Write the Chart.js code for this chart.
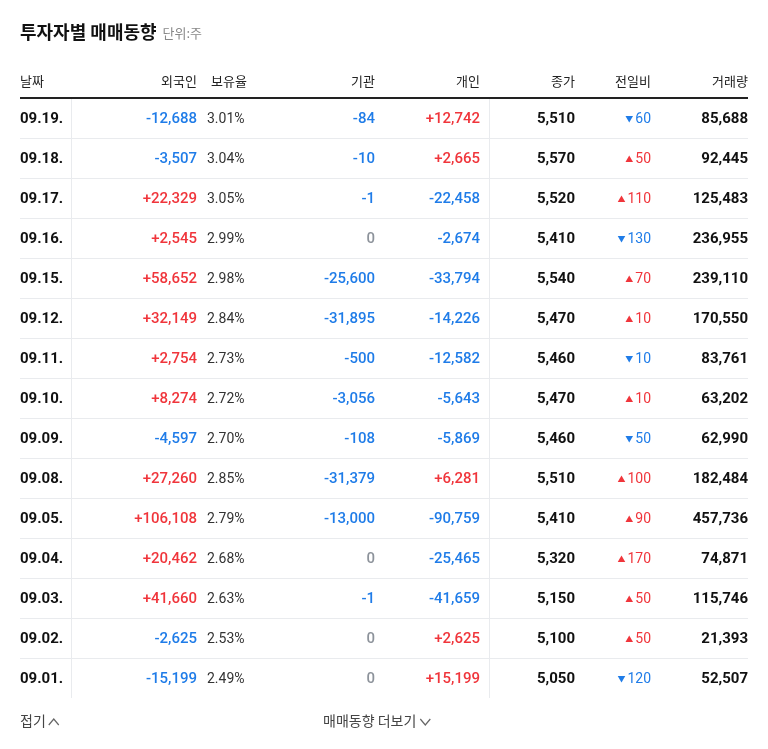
<!DOCTYPE html>
<html><head><meta charset="utf-8">
<script src="https://cdn.jsdelivr.net/npm/chart.js@4"></script>
<style>html,body{margin:0;padding:0;background:#fff}canvas{display:block}</style>
</head><body>
<canvas id="c" width="768" height="749"></canvas>
<script>
const dates=["09.19.","09.18.","09.17.","09.16.","09.15.","09.12.","09.11.","09.10.","09.09.","09.08.","09.05.","09.04.","09.03.","09.02.","09.01."];
const foreign=[-12688,-3507,22329,2545,58652,32149,2754,8274,-4597,27260,106108,20462,41660,-2625,-15199];
const holdRatio=["3.01%","3.04%","3.05%","2.99%","2.98%","2.84%","2.73%","2.72%","2.70%","2.85%","2.79%","2.68%","2.63%","2.53%","2.49%"];
const inst=[-84,-10,-1,0,-25600,-31895,-500,-3056,-108,-31379,-13000,0,-1,0,0];
const indiv=[12742,2665,-22458,-2674,-33794,-14226,-12582,-5643,-5869,6281,-90759,-25465,-41659,2625,15199];
const close=[5510,5570,5520,5410,5540,5470,5460,5470,5460,5510,5410,5320,5150,5100,5050];
const change=[-60,50,110,-130,70,10,-10,10,-50,100,90,170,50,50,-120];
const volume=[85688,92445,125483,236955,239110,170550,83761,63202,62990,182484,457736,74871,115746,21393,52507];
const headers=["날짜","외국인","보유율","기관","개인","종가","전일비","거래량"];

const RED="#f0353b",BLUE="#1f7ce8",GRAY="#8d939b",DARK="#111";
const F="'Noto Sans CJK KR','Noto Sans',sans-serif";
const N="Roboto,'Noto Sans CJK KR',sans-serif";
const fmt=v=>Math.abs(v).toLocaleString("en-US");
const signed=v=>v>0?"+"+fmt(v):v<0?"-"+fmt(v):"0";
const col=v=>v>0?RED:v<0?BLUE:GRAY;

const tablePlugin={id:"table",afterDraw(chart){
  const ctx=chart.ctx,ys=chart.scales.y,xs=chart.scales.x;
  const X=v=>xs.getPixelForValue(v);
  ctx.save();
  ctx.textBaseline="middle";
  ctx.fillStyle=DARK;ctx.font="bold 18px "+F;ctx.textAlign="left";
  ctx.fillText("투자자별 매매동향",20,32);
  const tw=ctx.measureText("투자자별 매매동향").width;
  ctx.fillStyle="#888";ctx.font="13px "+F;ctx.fillText("단위:주",20+tw+6,33);
  ctx.font="13px "+F;ctx.fillStyle="#222";
  const hx=[[20,"left"],[197,"right"],[247,"right"],[375,"right"],[480,"right"],[575,"right"],[651,"right"],[748,"right"]];
  headers.forEach((h,i)=>{ctx.textAlign=hx[i][1];ctx.fillText(h,X(hx[i][0]),81);});
  ctx.fillStyle="#222";ctx.fillRect(X(20),97,X(748)-X(20),2);
  const step=ys.getPixelForValue(1)-ys.getPixelForValue(0);
  ctx.fillStyle="#e9ebee";
  dates.forEach((d,i)=>{if(i<dates.length-1){const y=ys.getPixelForValue(i)+step/2;ctx.fillRect(X(20),Math.round(y),X(748)-X(20),1);}});
  ctx.fillRect(X(71),99,1,ys.getPixelForValue(dates.length-1)+step/2-99);
  ctx.fillRect(X(489),99,1,ys.getPixelForValue(dates.length-1)+step/2-99);
  dates.forEach((d,i)=>{
    const y=ys.getPixelForValue(i)+1;
    ctx.font="bold 15px "+N;ctx.fillStyle=DARK;ctx.textAlign="left";ctx.fillText(d,X(20),y);
    ctx.textAlign="right";ctx.font="500 15px "+N;
    ctx.fillStyle=col(foreign[i]);ctx.fillText(signed(foreign[i]),X(197),y);
    ctx.fillStyle=col(inst[i]);ctx.fillText(signed(inst[i]),X(375),y);
    ctx.fillStyle=col(indiv[i]);ctx.fillText(signed(indiv[i]),X(480),y);
    ctx.textAlign="left";ctx.font="14px "+N;ctx.fillStyle="#333";ctx.fillText(holdRatio[i],X(207),y);
    ctx.textAlign="right";ctx.font="bold 15px "+N;ctx.fillStyle=DARK;
    ctx.fillText(fmt(close[i]),X(575),y);ctx.fillText(fmt(volume[i]),X(748),y);
    ctx.font="14px "+N;ctx.fillStyle=change[i]>0?RED:BLUE;
    const t=fmt(change[i]);ctx.fillText(t,X(651),y);
    const w=ctx.measureText(t).width;
    ctx.font="8px "+F;ctx.fillText(change[i]>0?"▲":"▼",X(651)-w-2,y);
  });
  ctx.font="14px "+F;ctx.fillStyle="#444";ctx.textAlign="left";
  ctx.fillText("접기",20,721);
  let w1=ctx.measureText("접기").width;
  ctx.strokeStyle="#666";ctx.lineWidth=1.2;
  ctx.beginPath();ctx.moveTo(20+w1+3,725);ctx.lineTo(20+w1+8,719);ctx.lineTo(20+w1+13,725);ctx.stroke();
  ctx.fillText("매매동향 더보기",323,721);
  let w2=ctx.measureText("매매동향 더보기").width;
  ctx.beginPath();ctx.moveTo(323+w2+4,719);ctx.lineTo(323+w2+9,725);ctx.lineTo(323+w2+14,719);ctx.stroke();
  ctx.restore();
}};

new Chart(document.getElementById("c"),{
  type:"bar",
  data:{labels:dates,datasets:[{data:[],indexAxis:"y"}]},
  options:{
    responsive:false,animation:false,indexAxis:"y",
    layout:{padding:{top:98,bottom:51,left:0,right:0}},
    plugins:{legend:{display:false},tooltip:{enabled:false}},
    scales:{
      x:{type:"linear",min:0,max:768,display:false},
      y:{type:"category",labels:dates,offset:true,display:false}
    }
  },
  plugins:[tablePlugin]
});
</script>
</body></html>
